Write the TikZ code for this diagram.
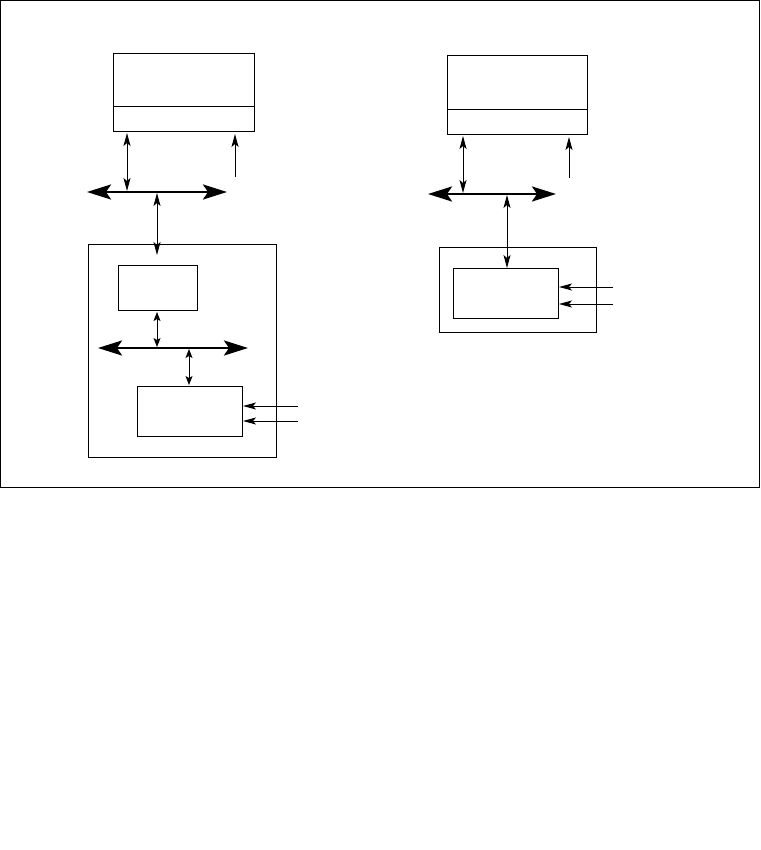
\documentclass[tikz,border=0pt]{standalone}
\usepackage{tikz}
\usetikzlibrary{positioning,arrows.meta}
\tikzset{
  blk/.style={draw, line width=0.9pt, inner sep=0pt, outer sep=0pt},
  bus/.style={{Stealth[length=24pt,width=15pt,inset=5pt]}-{Stealth[length=24pt,width=15pt,inset=5pt]}, line width=2.6pt},
  link/.style={-{Stealth[length=13pt,width=7pt,inset=3pt]}, line width=0.9pt},
  dlink/.style={{Stealth[length=13pt,width=7pt,inset=3pt]}-{Stealth[length=13pt,width=7pt,inset=3pt]}, line width=0.9pt},
  slink/.style={{Stealth[length=9pt,width=7pt,inset=2pt]}-{Stealth[length=9pt,width=7pt,inset=2pt]}, line width=0.9pt},
}

\begin{document}
\begin{tikzpicture}[x=1pt,y=-1pt]
\useasboundingbox (0,0) rectangle (760,850);
\draw[line width=0.9pt] (0.5,0.5) rectangle (759.5,487.5);
% left system
\node[blk, minimum width=141pt, minimum height=53pt] (topL) at (183.5,79.5) {};
\node[blk, minimum width=141pt, minimum height=25pt, below=0pt of topL] (topLb) {};
\coordinate (busLw) at (87,192);
\coordinate (busLe) at (227,192);
\draw[bus] (busLw) -- (busLe);
\coordinate (tapL1) at (127,192);
\coordinate (tapL2) at (157,192);
\coordinate (upL) at (235,177);
\draw[dlink, shorten <=1pt, shorten >=2pt] (tapL1) -- (tapL1 |- topLb.south);
\draw[link, shorten >=3pt] (upL) -- (upL |- topLb.south);
\node[blk, minimum width=188pt, minimum height=213pt] (subL) at (182,350.5) {};
\draw[dlink, shorten <=1pt, shorten >=-11pt] (tapL2) -- (tapL2 |- subL.north);
\node[blk, minimum width=79pt, minimum height=45pt] (cpuL) at (157.5,287.5) {};
\node[blk, minimum width=105pt, minimum height=50pt] (ioL) at (189.5,411) {};
\coordinate (ibusLw) at (98,348);
\coordinate (ibusLe) at (248,348);
\draw[bus] (ibusLw) -- (ibusLe);
\coordinate (itapL1) at (157,348);
\coordinate (itapL2) at (189,348);
\draw[slink, shorten <=1pt, shorten >=2pt] (itapL1) -- (itapL1 |- cpuL.south);
\draw[slink, shorten <=1pt, shorten >=1pt] (itapL2) -- (itapL2 |- ioL.north);
\coordinate (inL1) at (298,406);
\coordinate (inL2) at (298,421);
\draw[link, shorten >=1pt] (inL1) -- (inL1 -| ioL.east);
\draw[link, shorten >=1pt] (inL2) -- (inL2 -| ioL.east);
% right system
\node[blk, minimum width=140pt, minimum height=54pt] (topR) at (517,82) {};
\node[blk, minimum width=140pt, minimum height=25pt, below=0pt of topR] (topRb) {};
\coordinate (busRw) at (428,194);
\coordinate (busRe) at (556,194);
\draw[bus] (busRw) -- (busRe);
\coordinate (tapR1) at (463,194);
\coordinate (tapR2) at (507,194);
\coordinate (upR) at (569,178);
\draw[dlink, shorten <=1pt, shorten >=2pt] (tapR1) -- (tapR1 |- topRb.south);
\draw[link, shorten >=3pt] (upR) -- (upR |- topRb.south);
\node[blk, minimum width=157pt, minimum height=85pt] (subR) at (517.5,289.5) {};
\node[blk, minimum width=105pt, minimum height=50pt] (ioR) at (505.5,293) {};
\draw[dlink, shorten <=1pt] (tapR2) -- (tapR2 |- ioR.north);
\coordinate (inR1) at (613,287);
\coordinate (inR2) at (613,304);
\draw[link, shorten >=1pt] (inR1) -- (inR1 -| ioR.east);
\draw[link, shorten >=1pt] (inR2) -- (inR2 -| ioR.east);
\end{tikzpicture}
\end{document}
